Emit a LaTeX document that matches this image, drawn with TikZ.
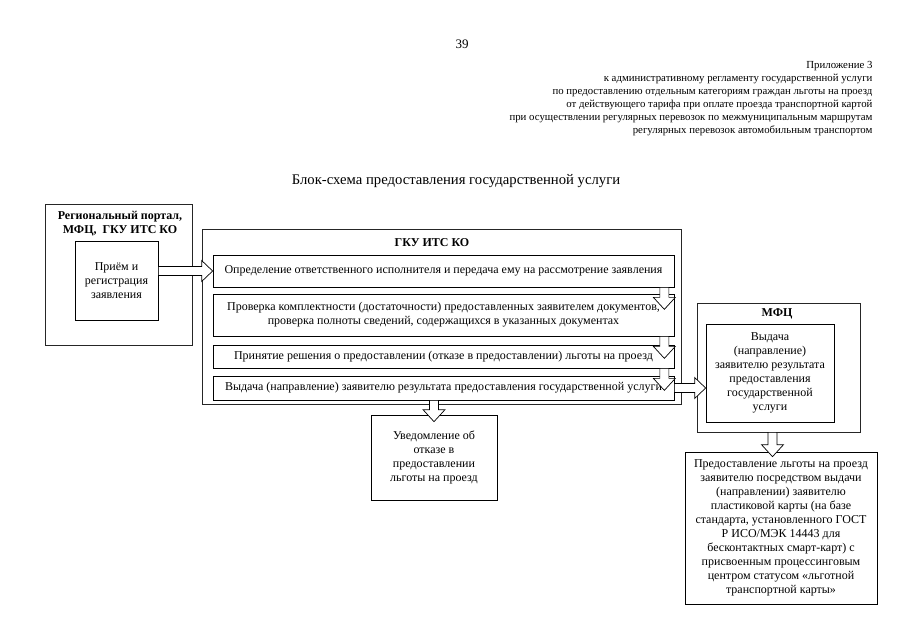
\documentclass[tikz,border=0pt]{standalone}
\usepackage{fontspec}
\setmainfont{Liberation Serif}
\usetikzlibrary{positioning,calc}

% block arrow to the right, from #1 to the tip #2
\newcommand\fatright[2]{%
  \draw[fat] let \p1=#1, \p2=#2 in
    (\x1,\y1+4.5pt) -- (\x2-11pt,\y1+4.5pt) -- (\x2-11pt,\y1+10.5pt) -- (\x2,\y1)
    -- (\x2-11pt,\y1-10.5pt) -- (\x2-11pt,\y1-4.5pt) -- (\x1,\y1-4.5pt) -- cycle;}
% block arrow downwards, from #1 to the tip #2
\newcommand\fatdown[2]{%
  \draw[fat] let \p1=#1, \p2=#2 in
    (\x1-4.5pt,\y1) -- (\x1-4.5pt,\y2+12pt) -- (\x1-11pt,\y2+12pt) -- (\x1,\y2)
    -- (\x1+11pt,\y2+12pt) -- (\x1+4.5pt,\y2+12pt) -- (\x1+4.5pt,\y1) -- cycle;}

\begin{document}
\begin{tikzpicture}[x=1pt,y=-1pt,
  frame/.style={draw=black!85,line width=0.7pt,inner sep=0pt},
  box/.style={draw,line width=0.7pt,inner sep=1pt,align=center,
    font=\fontsize{12}{14}\selectfont},
  head/.style={align=center,font=\fontsize{12}{14}\selectfont\bfseries},
  note/.style={align=right,font=\fontsize{10.8}{13}\selectfont},
  fat/.style={draw,fill=white,line width=0.7pt,line join=miter}]
  \fill[white] (0,0) rectangle (905,640);
  \useasboundingbox (0,0) rectangle (905,640);

  % page head
  \node[font=\fontsize{13}{15}\selectfont] (pageno) at (462,44) {39};
  \node[note,anchor=east] (annex) at (876,99) {Приложение 3\\
    к административному регламенту государственной услуги\\
    по предоставлению отдельным категориям граждан льготы на проезд\\
    от действующего тарифа при оплате проезда транспортной картой\\
    при осуществлении регулярных перевозок по межмуниципальным маршрутам\\
    регулярных перевозок автомобильным транспортом};
  \node[font=\fontsize{14.7}{17}\selectfont] (title) at (456,181)
    {Блок-схема предоставления государственной услуги};

  % left block
  \node[frame,minimum width=147pt,minimum height=141pt] (portal) at (118.5,274.5) {};
  \node[head] (portalhead) at (120,224) {Региональный портал,\\МФЦ,~ ГКУ ИТС КО};
  \node[box,minimum width=83pt,minimum height=79pt] (recv) at (116.5,280.5)
    {Приём и\\регистрация\\заявления};

  % ГКУ ИТС КО
  \node[frame,minimum width=479pt,minimum height=175pt] (gku) at (441.5,316.5) {};
  \node[head] (gkuhead) at (432,243) {ГКУ ИТС КО};
  \node[box,minimum width=461pt,minimum height=32pt] (s1) at (443.5,271)
    {Определение ответственного исполнителя и передача ему на рассмотрение заявления};
  \node[box,minimum width=461pt,minimum height=42pt] (s2) at (443.5,315)
    {Проверка комплектности (достаточности) предоставленных заявителем документов,\\
     проверка полноты сведений, содержащихся в указанных документах};
  \node[box,minimum width=461pt,minimum height=23pt] (s3) at (443.5,356.5)
    {Принятие решения о предоставлении (отказе в предоставлении) льготы на проезд};
  \node[box,minimum width=461pt,minimum height=24pt] (s4) at (443.5,388)
    {Выдача (направление) заявителю результата предоставления государственной услуги};

  \node[box,minimum width=126pt,minimum height=85pt] (refusal) at (434,457.5)
    {Уведомление об\\отказе в\\предоставлении\\льготы на проезд};

  % МФЦ
  \node[frame,minimum width=163pt,minimum height=129pt] (mfc) at (778.5,367.5) {};
  \node[head] (mfchead) at (777,314) {МФЦ};
  \node[box,minimum width=128pt,minimum height=98pt] (mfcout) at (770,373)
    {Выдача\\(направление)\\заявителю результата\\предоставления\\государственной\\услуги};
  \node[box,minimum width=192pt,minimum height=152pt] (final) at (781,528)
    {Предоставление льготы на проезд\\
     заявителю посредством выдачи\\
     (направлении) заявителю\\
     пластиковой карты (на базе\\
     стандарта, установленного ГОСТ\\
     Р ИСО/МЭК 14443 для\\
     бесконтактных смарт-карт) с\\
     присвоенным процессинговым\\
     центром статусом «льготной\\
     транспортной карты»};

  % arrows
  \fatright{(recv.east |- s1.west)}{(s1.west)}
  \fatdown{($(s1.south east)+(-10,0)$)}{($(s1.south east)+(-10,22)$)}
  \fatdown{($(s2.south east)+(-10,0)$)}{($(s2.south east)+(-10,22)$)}
  \fatdown{($(s3.south east)+(-10,0)$)}{($(s3.south east)+(-10,22)$)}
  \fatright{(s4.east)}{(mfcout.west |- s4.east)}
  \fatdown{(s4.south -| refusal.north)}{($(refusal.north)+(0,7)$)}
  \fatdown{($(mfc.south)+(-6,0)$)}{($(final.north)+(0,5)$)}
\end{tikzpicture}
\end{document}
